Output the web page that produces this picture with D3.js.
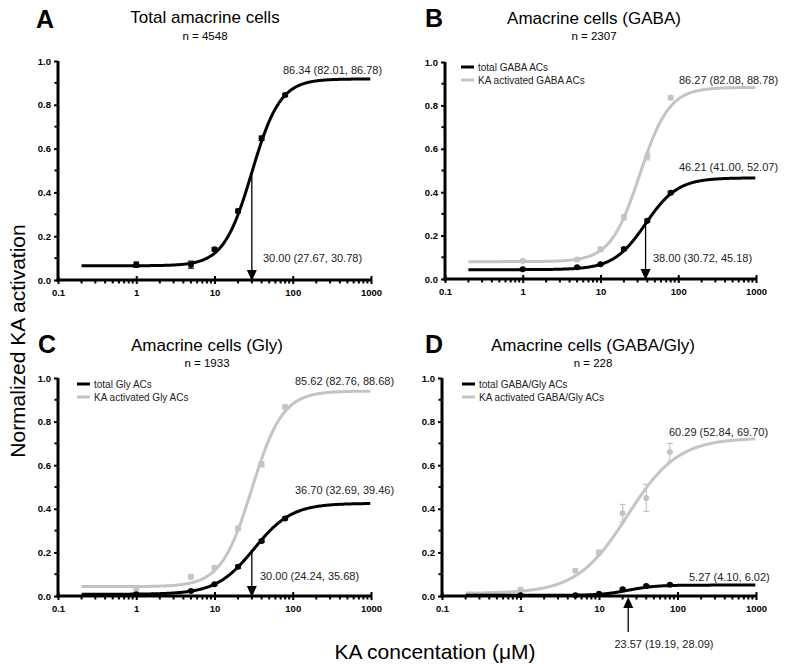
<!DOCTYPE html>
<html><head><meta charset="utf-8">
<script src="https://cdn.jsdelivr.net/npm/d3@7"></script>
<style>body{margin:0;background:#fff}svg{display:block}text{font-family:"Liberation Sans",Arial,sans-serif}</style>
</head><body>
<svg id="c" width="800" height="664"></svg>
<script>
// ---- data ----
const concentrations = [1, 5, 10, 20, 40, 80];
const xTickLabels = ["0.1", "1", "10", "100", "1000"];
const yTickLabels = ["0.0", "0.2", "0.4", "0.6", "0.8", "1.0"];

const panelLetters = ["A", "B", "C", "D"];
const panelTitles = ["Total amacrine cells", "Amacrine cells (GABA)", "Amacrine cells (Gly)", "Amacrine cells (GABA/Gly)"];
const panelCounts = ["n = 4548", "n = 2307", "n = 1933", "n = 228"];

const aTotal = [0.07, 0.07, 0.14, 0.315, 0.647, 0.845];
const aTotalErr = [0.012, 0.016, 0.008, 0.008, 0.01, 0.007];
const bTotal = [0.045, 0.054, 0.068, 0.138, 0.269, 0.398];
const bTotalErr = [0.004, 0.004, 0.004, 0.006, 0.006, 0.006];
const bKA = [0.083, 0.09, 0.137, 0.284, 0.564, 0.835];
const bKAErr = [0.005, 0.008, 0.01, 0.012, 0.015, 0.008];
const cTotal = [0.008, 0.023, 0.054, 0.134, 0.252, 0.356];
const cTotalErr = [0.004, 0.004, 0.004, 0.006, 0.006, 0.006];
const cKA = [0.035, 0.088, 0.13, 0.31, 0.604, 0.866];
const cKAErr = [0.01, 0.01, 0.008, 0.01, 0.012, 0.01];
const dTotal = [0.003, 0.004, 0.01, 0.031, 0.046, 0.052];
const dTotalErr = [0.002, 0.002, 0.003, 0.004, 0.004, 0.004];
const dKA = [0.03, 0.116, 0.2, 0.38, 0.45, 0.66];
const dKAErr = [0.005, 0.008, 0.01, 0.04, 0.062, 0.04];

// fitted 4-parameter logistic: [bottom, top, EC50, hill]
const aTotalFit = [0.065, 0.918, 30, 2.4];
const bTotalFit = [0.043, 0.466, 38, 2.1];
const bKAFit = [0.08, 0.883, 32, 2.3];
const cTotalFit = [0.008, 0.425, 32, 1.8];
const cKAFit = [0.043, 0.94, 30, 2.2];
const dTotalFit = [0.003, 0.05, 23.57, 2.5];
const dKAFit = [0.012, 0.725, 23, 1.35];

const legendNames = {
  B: ["total GABA ACs", "KA activated GABA ACs"],
  C: ["total Gly ACs", "KA activated Gly ACs"],
  D: ["total GABA/Gly ACs", "KA activated GABA/Gly ACs"]
};
const topLabels = {
  A: ["86.34 (82.01, 86.78)"],
  B: ["46.21 (41.00, 52.07)", "86.27 (82.08, 88.78)"],
  C: ["36.70 (32.69, 39.46)", "85.62 (82.76, 88.68)"],
  D: ["5.27 (4.10, 6.02)", "60.29 (52.84, 69.70)"]
};
const ec50Values = [30, 38, 30, 23.57];
const ec50Labels = ["30.00 (27.67, 30.78)", "38.00 (30.72, 45.18)", "30.00 (24.24, 35.68)", "23.57 (19.19, 28.09)"];

// ---- layout ----
const BLACK = "#000", GREY = "#c4c4c4";
const svg = d3.select("#c");
const panels = [
  {id:"A", x0:58, x1:371, y0:280, y1:61, series:[{v:aTotal,e:aTotalErr,f:aTotalFit,c:BLACK}], labelPos:[[283,74]], ecPos:[263,262], arrowUp:false, legend:false, letterX:36, letterY:28, titleX:205, titleY:23, nY:40},
  {id:"B", x0:445, x1:756, y0:279, y1:62, series:[{v:bTotal,e:bTotalErr,f:bTotalFit,c:BLACK},{v:bKA,e:bKAErr,f:bKAFit,c:GREY}], labelPos:[[679,171],[679,84]], ecPos:[653,262], arrowUp:false, legend:[461,67], letterX:425, letterY:27, titleX:594, titleY:24, nY:40},
  {id:"C", x0:58, x1:371, y0:596, y1:378, series:[{v:cTotal,e:cTotalErr,f:cTotalFit,c:BLACK},{v:cKA,e:cKAErr,f:cKAFit,c:GREY}], labelPos:[[295,494],[295,385]], ecPos:[260,580], arrowUp:false, legend:[77,384], letterX:38, letterY:353, titleX:207, titleY:351, nY:367},
  {id:"D", x0:442, x1:756, y0:596, y1:378, series:[{v:dTotal,e:dTotalErr,f:dTotalFit,c:BLACK},{v:dKA,e:dKAErr,f:dKAFit,c:GREY}], labelPos:[[689,581],[669,436]], ecPos:[664,648], arrowUp:true, legend:[462,384], letterX:425, letterY:353, titleX:593, titleY:351, nY:367}
];

function logistic(p, x){ return p[0] + (p[1]-p[0])/(1+Math.pow(p[2]/x, p[3])); }

panels.forEach((P, i) => {
  const x = d3.scaleLog().domain([0.1, 1000]).range([P.x0, P.x1]);
  const y = d3.scaleLinear().domain([0, 1]).range([P.y0, P.y1]);
  const g = svg.append("g");

  // titles
  g.append("text").attr("x", P.letterX).attr("y", P.letterY).attr("font-size", 25).attr("font-weight", "bold").text(panelLetters[i]);
  g.append("text").attr("x", P.titleX).attr("y", P.titleY).attr("text-anchor","middle").attr("font-size", 17).text(panelTitles[i]);
  g.append("text").attr("x", P.titleX).attr("y", P.nY).attr("text-anchor","middle").attr("font-size", 11.5).text(panelCounts[i]);

  // y axis
  const yAx = g.append("g").attr("transform", `translate(${P.x0},0)`)
    .call(d3.axisLeft(y).tickValues(d3.range(0, 1.01, 0.2)).tickSize(4).tickPadding(3).tickFormat((d,k)=>yTickLabels[k]));
  yAx.select(".domain").attr("stroke-width", 3).attr("d", `M0,${P.y0+1.5}V${P.y1}`);
  yAx.selectAll(".tick line").attr("stroke-width", 2);
  yAx.selectAll("text").attr("font-size", 9.5).attr("font-weight", "bold").attr("font-family", "Liberation Sans, Arial");
  g.append("g").selectAll("line").data(d3.range(0.1, 1, 0.2)).join("line")
    .attr("x1", P.x0-3.5).attr("x2", P.x0).attr("y1", d=>y(d)).attr("y2", d=>y(d)).attr("stroke", "#000").attr("stroke-width", 2);

  // x axis
  const xAx = g.append("g").attr("transform", `translate(0,${P.y0})`)
    .call(d3.axisBottom(x).tickValues([0.1,1,10,100,1000]).tickSize(4).tickPadding(5).tickFormat((d,k)=>xTickLabels[k]));
  xAx.select(".domain").attr("stroke-width", 3).attr("d", `M${P.x0-1.5},0H${P.x1}`);
  xAx.selectAll(".tick line").attr("stroke-width", 2).attr("y1", -4).attr("y2", 4);
  xAx.selectAll("text").attr("font-size", 9.5).attr("font-weight", "bold").attr("font-family", "Liberation Sans, Arial");
  const minors = [];
  [0.1, 1, 10, 100].forEach(dec => { for (let m = 2; m <= 9; m++) minors.push(dec*m); });
  g.append("g").selectAll("line").data(minors).join("line")
    .attr("x1", d=>x(d)).attr("x2", d=>x(d)).attr("y1", P.y0).attr("y2", P.y0+3.5).attr("stroke", "#000").attr("stroke-width", 2);

  // curves (grey first so black is on top)
  const ordered = P.series.slice().reverse();
  const xs = d3.range(Math.log10(0.2), 3.0001, 0.01).map(v => Math.pow(10, v));
  ordered.forEach(s => {
    const line = d3.line().x(d=>x(d)).y(d=>y(logistic(s.f, d))).curve(d3.curveLinear);
    g.append("path").attr("d", line(xs)).attr("fill","none").attr("stroke", s.c).attr("stroke-width", 3);
    // error bars
    const eb = g.append("g").attr("stroke", s.c).attr("stroke-width", 1.2);
    concentrations.forEach((c, k) => {
      const cx = x(c), top = y(s.v[k]+s.e[k]), bot = y(s.v[k]-s.e[k]);
      eb.append("line").attr("x1", cx).attr("x2", cx).attr("y1", top).attr("y2", bot);
      eb.append("line").attr("x1", cx-3).attr("x2", cx+3).attr("y1", top).attr("y2", top);
      eb.append("line").attr("x1", cx-3).attr("x2", cx+3).attr("y1", bot).attr("y2", bot);
    });
    g.append("g").selectAll("circle").data(s.v).join("circle")
      .attr("cx", (d,k)=>x(concentrations[k])).attr("cy", d=>y(d)).attr("r", 3).attr("fill", s.c);
  });

  // annotation labels
  P.labelPos.forEach((pos, k) => {
    g.append("text").attr("x", pos[0]).attr("y", pos[1]).attr("font-size", 11).attr("fill", "#222").text(topLabels[P.id][k]);
  });

  // EC50 arrow
  const ax = x(ec50Values[i]);
  if (!P.arrowUp) {
    const ytop = y(logistic(P.series[0].f, ec50Values[i]));
    g.append("line").attr("x1", ax).attr("x2", ax).attr("y1", ytop).attr("y2", P.y0-8).attr("stroke","#000").attr("stroke-width", 1.3);
    g.append("path").attr("d", `M${ax-5},${P.y0-10}L${ax+5},${P.y0-10}L${ax},${P.y0+1}Z`).attr("fill","#000");
    g.append("text").attr("x", P.ecPos[0]).attr("y", P.ecPos[1]).attr("font-size", 11).attr("fill","#222").text(ec50Labels[i]);
  } else {
    g.append("line").attr("x1", ax).attr("x2", ax).attr("y1", P.y0+36).attr("y2", P.y0+10).attr("stroke","#000").attr("stroke-width", 1.3);
    g.append("path").attr("d", `M${ax-5},${P.y0+12}L${ax+5},${P.y0+12}L${ax},${P.y0+1}Z`).attr("fill","#000");
    g.append("text").attr("x", P.ecPos[0]).attr("y", P.ecPos[1]).attr("text-anchor","middle").attr("font-size", 11).attr("fill","#222").text(ec50Labels[i]);
  }

  // legend
  if (P.legend) {
    const names = legendNames[P.id];
    [BLACK, GREY].forEach((c, k) => {
      const ly = P.legend[1] + k*13;
      g.append("line").attr("x1", P.legend[0]).attr("x2", P.legend[0]+13).attr("y1", ly).attr("y2", ly).attr("stroke", c).attr("stroke-width", 3);
      g.append("text").attr("x", P.legend[0]+17).attr("y", ly+3.5).attr("font-size", 10).attr("fill","#222").text(names[k]);
    });
  }
});

// shared axis titles
svg.append("text").attr("transform", "translate(25,341) rotate(-90)").attr("text-anchor","middle").attr("font-size", 21).text("Normalized KA activation");
svg.append("text").attr("x", 435).attr("y", 659).attr("text-anchor","middle").attr("font-size", 21).text("KA concentation (μM)");
</script>
</body></html>
